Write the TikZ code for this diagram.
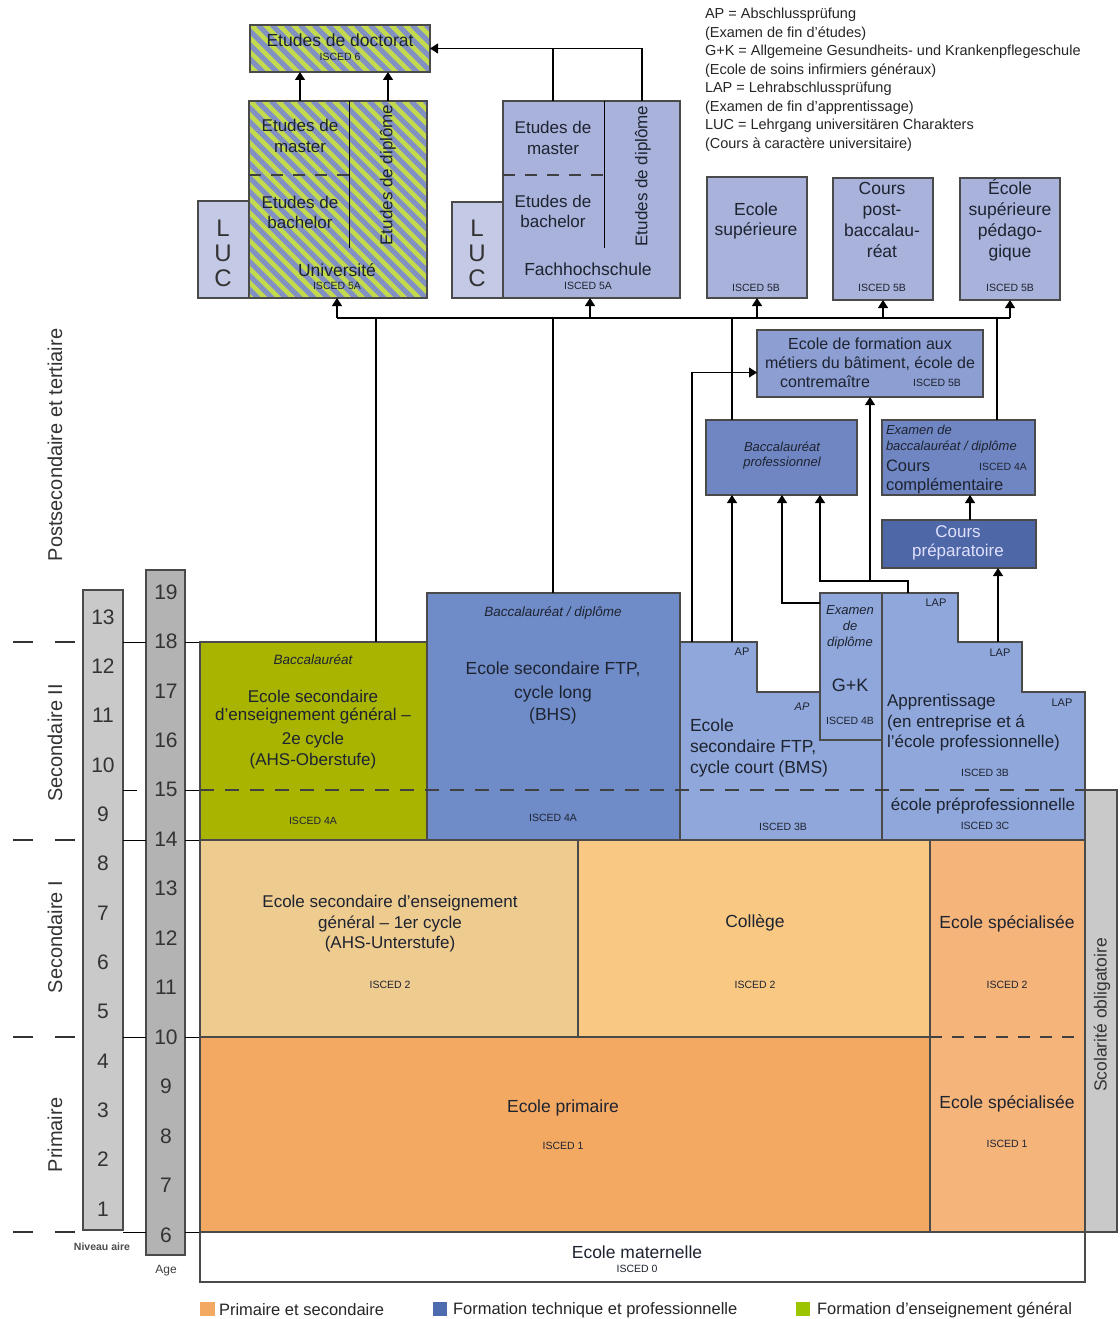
\documentclass[tikz,border=0pt]{standalone}
\usepackage{fontspec}
\setmainfont{Liberation Sans}
\usetikzlibrary{arrows.meta,calc}
\definecolor{ink}{HTML}{1E2330}
\definecolor{frame}{HTML}{4A4A4A}
\definecolor{cPrim}{HTML}{F4A962}
\definecolor{cSpec}{HTML}{F5B47A}
\definecolor{cAhsu}{HTML}{EECB8F}
\definecolor{cColl}{HTML}{F9C883}
\definecolor{cGreen}{HTML}{A8B400}
\definecolor{cBHS}{HTML}{6F8CC9}
\definecolor{cBMS}{HTML}{8FA7DA}
\definecolor{cBacPro}{HTML}{6F86C3}
\definecolor{cPrep}{HTML}{4E67A6}
\definecolor{cForm}{HTML}{8C9ED2}
\definecolor{cTop}{HTML}{A9B2DA}
\definecolor{cLuc}{HTML}{C4C9E6}
\definecolor{gNiv}{HTML}{C9C9C9}
\definecolor{gAge}{HTML}{B3B3B3}
\definecolor{hG}{HTML}{C3DA4E}
\definecolor{hB}{HTML}{8391C2}
\definecolor{lgBlue}{HTML}{4E6BAF}
\definecolor{lgGreen}{HTML}{9CC400}
\newcommand\rbox[6]{\node[#6, minimum width={(#4-#2)*1pt}, minimum height={(#5-#3)*1pt}] (#1) at ({(#2+#4)/2},{(#3+#5)/2}) {};}
\tikzset{
  fr/.style={draw=frame, line width=1.1pt},
  hatch/.style={path picture={
    \fill[hG] (path picture bounding box.south west) rectangle (path picture bounding box.north east);
    \foreach \k in {0,14,...,560} \draw[hB, line width=5pt] ($(path picture bounding box.north west)+(\k-300,0)$) -- ++(300,300);
  }},
  T/.style={font=\fontsize{17.5}{21}\selectfont, text=ink, align=center},
  TL/.style={font=\fontsize{17.5}{21}\selectfont, text=ink, align=left},
  Sm/.style={font=\fontsize{10.5}{12}\selectfont, text=ink},
  It/.style={font=\fontsize{13.5}{15}\selectfont\itshape, text=ink, align=center},
  Num/.style={font=\fontsize{21}{21}\selectfont, text=black!80},
  Side/.style={font=\fontsize{20}{20}\selectfont, text=black!80, rotate=90},
  Lg/.style={font=\fontsize{14.5}{15}\selectfont, text=black!85, anchor=west},
  LUCs/.style={font=\fontsize{24}{25}\selectfont, text=black!80, align=center},
  ln/.style={draw=black, line width=1.1pt},
  arr/.style={draw=black, line width=1.1pt, -{Triangle[length=8pt,width=10pt]}},
  dsh/.style={draw=black!75, line width=1.6pt, dash pattern=on 14pt off 11pt},
  dshi/.style={draw=black!75, line width=1.1pt, dash pattern=on 12pt off 10pt},
  lmark/.style={draw=black!80, line width=2.8pt},
}
\begin{document}
\begin{tikzpicture}[x=1pt,y=-1pt, every node/.style={inner sep=0pt, outer sep=0pt}]
\fill[white] (0,0) rectangle (1119,1319);
\useasboundingbox (0,0) rectangle (1119,1319);

% ---- left axes
\rbox{niv}{83}{590}{123}{1230}{fr, fill=gNiv}
\rbox{age}{146}{570}{185}{1255}{fr, fill=gAge}
\foreach \n [count=\i from 0] in {13,12,...,1} \node[Num] (niv-\n) at (103,{617+\i*49.33}) {\n};
\foreach \n [count=\i from 0] in {19,18,...,6} \node[Num] (age-\n) at (166,{592+\i*49.46}) {\n};
\foreach \y in {642,840,1037,1232} {
  \draw[lmark] (13,\y) -- (33,\y);
  \draw[lmark] (55,\y) -- (75,\y);
  \draw[ln, line width=0.9pt] (123,\y) -- (146,\y);
  \draw[ln, line width=0.9pt] (185,\y) -- (200,\y);
}
\draw[ln, line width=0.9pt] (123,790) -- (137,790);
\draw[ln, line width=0.9pt] (185,790) -- (200,790);
\node[Side] (lpost) at (55,445) {Postsecondaire et tertiaire};
\node[Side] (lsec2) at (55,743) {Secondaire II};
\node[Side] (lsec1) at (55,937) {Secondaire I};
\node[Side] (lprim) at (55,1135) {Primaire};
\node[font=\fontsize{10.5}{11}\selectfont\bfseries, text=black!70] (lniv) at (102,1247) {Niveau aire};
\node[font=\fontsize{12}{12}\selectfont, text=black!75] (lage) at (166,1271) {Age};

% ---- primary / lower secondary
\rbox{mat}{200}{1232}{1085}{1282}{fr, fill=white}
\rbox{scol}{1085}{790}{1117}{1232}{fr, fill=gNiv}
\rbox{prim}{200}{1037}{930}{1232}{fr, fill=cPrim}
\rbox{spec}{930}{840}{1085}{1232}{fr, fill=cSpec}
\rbox{ahsu}{200}{840}{578}{1037}{fr, fill=cAhsu}
\rbox{coll}{578}{840}{930}{1037}{fr, fill=cColl}
\draw[dshi] (spec.west |- prim.north) -- (spec.east |- prim.north);

% ---- upper secondary
\rbox{ahso}{200}{642}{427}{840}{fr, fill=cGreen}
\rbox{bhs}{427}{593}{680}{840}{fr, fill=cBHS}
\filldraw[fr, fill=cBMS] (680,642) -- (757,642) -- (757,692) -- (820,692) -- (820,740) -- (882,740) -- (882,840) -- (680,840) -- cycle;
\rbox{gk}{820}{593}{882}{740}{fr, fill=cBMS}
\filldraw[fr, fill=cBMS] (882,593) -- (958,593) -- (958,642) -- (1022,642) -- (1022,692) -- (1085,692) -- (1085,840) -- (882,840) -- cycle;
\draw[dsh] (ahso.west |- 0,790) -- (1085,790);

% ---- tertiary
\rbox{prep}{882}{520}{1036}{568}{fr, fill=cPrep}
\rbox{bacpro}{706}{420}{857}{495}{fr, fill=cBacPro}
\rbox{compl}{882}{420}{1035}{495}{fr, fill=cBacPro}
\rbox{form}{757}{330}{983}{397}{fr, fill=cForm}
\rbox{esup}{707}{177}{807}{298}{fr, fill=cTop}
\rbox{cpb}{833}{178}{933}{300}{fr, fill=cTop}
\rbox{esp}{960}{178}{1060}{300}{fr, fill=cTop}
\rbox{fh}{503}{101}{680}{298}{fr, fill=cTop}
\rbox{luc2}{452}{202}{503}{298}{fr, fill=cLuc}
\rbox{univ}{249}{101}{427}{298}{fr, hatch}
\rbox{luc1}{198}{201}{249}{298}{fr, fill=cLuc}
\rbox{doc}{250}{25}{430}{72}{fr, hatch}
\draw[ln, line width=0.9pt] (349,101) -- (349,248);
\draw[dshi] (249,175) -- (349,175);
\draw[ln, line width=0.9pt] (604,101) -- (604,248);
\draw[dshi] (503,175) -- (604,175);

% ---- connectors
\foreach \v in {300,337,376,388,553,590,642,692,732,782,820,870,908,970,997,998}
  \coordinate (x\v) at (\v,0);
\coordinate (busL) at (337,318);
\coordinate (hj) at (908,581);
\draw[ln] (busL) -- (esp.south |- busL);
\draw[arr] (busL) -- (univ.south -| busL);
\draw[arr] (x590 |- busL) -- (fh.south -| x590);
\draw[arr] (esup.south |- busL) -- (esup.south);
\draw[arr] (cpb.south |- busL) -- (cpb.south);
\draw[arr] (esp.south |- busL) -- (esp.south);
\draw[ln] (ahso.north -| x376) -- (x376 |- busL);
\draw[ln] (bhs.north -| x553) -- (x553 |- busL);
\draw[ln] (bacpro.north -| x732) -- (x732 |- busL);
\draw[ln] (compl.north -| x997) -- (x997 |- busL);
\draw[arr] (univ.north -| x300) -- (doc.south -| x300);
\draw[arr] (univ.north -| x388) -- (doc.south -| x388);
\draw[ln] (fh.north -| x553) -- (x553 |- doc.east);
\draw[arr] (fh.north -| x642) |- (doc.east);
\draw[arr] (ahso.north -| x692) |- ($(form.west)+(0,9)$);
\draw[arr] (ahso.north -| x732) -- (bacpro.south -| x732);
\draw[arr] ($(gk.north west)+(0,10)$) -| (bacpro.south -| x782);
\draw[arr] (gk.north -| x908) -- (hj) -| (bacpro.south -| x820);
\draw[arr] (x870 |- hj) -- (form.south -| x870);
\draw[arr] (ahso.north -| x998) -- (prep.south -| x998);
\draw[arr] (prep.north -| x970) -- (compl.south -| x970);

% ---- texts tertiary
\node[T] (tdoc) at (340,40) {Etudes de doctorat};
\node[Sm] (tdoci) at (340,57) {ISCED 6};
\node[T, font=\fontsize{17}{21}\selectfont] (tum) at (300,136) {Etudes de\\master};
\node[T, font=\fontsize{17}{20}\selectfont] (tub) at (300,212) {Etudes de\\bachelor};
\node[T] (tuni) at (337,270) {Université};
\node[Sm] (tunii) at (337,286) {ISCED 5A};
\node[T, rotate=90, font=\fontsize{17}{20}\selectfont] (tud) at (388,175) {Etudes de diplôme};
\node[LUCs] (tluc1) at (223,253) {L\\U\\C};
\node[T, font=\fontsize{17}{21}\selectfont] (tfm) at (553,138) {Etudes de\\master};
\node[T, font=\fontsize{17}{20}\selectfont] (tfb) at (553,211) {Etudes de\\bachelor};
\node[T] (tfh) at (588,269) {Fachhochschule};
\node[Sm] (tfhi) at (588,286) {ISCED 5A};
\node[T, rotate=90, font=\fontsize{17}{20}\selectfont] (tfd) at (643,176) {Etudes de diplôme};
\node[LUCs] (tluc2) at (477,253) {L\\U\\C};
\node[T, font=\fontsize{17.5}{20}\selectfont] (tesup) at (756,221) {Ecole\\supérieure};
\node[Sm] (tesupi) at (756,288) {ISCED 5B};
\node[T, font=\fontsize{17.5}{21}\selectfont] (tcpb) at (882,220) {Cours\\post-\\baccalau-\\réat};
\node[Sm] (tcpbi) at (882,288) {ISCED 5B};
\node[T, font=\fontsize{17.5}{21}\selectfont] (tesp) at (1010,220) {École\\supérieure\\pédago-\\gique};
\node[Sm] (tespi) at (1010,288) {ISCED 5B};
\node[T, font=\fontsize{16}{19}\selectfont] (tform) at (870,354) {Ecole de formation aux\\métiers du bâtiment, école de};
\node[T, font=\fontsize{16}{19}\selectfont] (tform2) at (825,382) {contremaître};
\node[Sm] (tformi) at (937,383) {ISCED 5B};
\node[It, font=\fontsize{13}{15}\selectfont\itshape] (tbac) at (782,456) {Baccalauréat\\professionnel};
\node[It, anchor=west, font=\fontsize{13}{15}\selectfont\itshape] (tcx1) at (886,430) {Examen de};
\node[It, anchor=west, font=\fontsize{13}{15}\selectfont\itshape] (tcx2) at (886,447) {baccalauréat / diplôme};
\node[TL, anchor=west, font=\fontsize{16.5}{20}\selectfont] (tcx3) at (886,466) {Cours};
\node[Sm] (tcxi) at (1003,467) {ISCED 4A};
\node[TL, anchor=west, font=\fontsize{16.5}{20}\selectfont] (tcx4) at (886,486) {complémentaire};
\node[T, text=white!88!blue, font=\fontsize{17}{19}\selectfont] (tprep) at (958,543) {Cours\\préparatoire};

% ---- texts upper secondary
\node[It] (tahs0) at (313,660) {Baccalauréat};
\node[T, font=\fontsize{17}{18}\selectfont] (tahs1) at (313,707) {Ecole secondaire\\d'enseignement général –};
\node[T, font=\fontsize{17}{21}\selectfont] (tahs2) at (313,751) {2e cycle\\(AHS-Oberstufe)};
\node[Sm] (tahsi) at (313,821) {ISCED 4A};
\node[It] (tbhs0) at (553,613) {Baccalauréat / diplôme};
\node[T, font=\fontsize{17.5}{24}\selectfont] (tbhs1) at (553,682) {Ecole secondaire FTP,\\cycle long};
\node[T] (tbhs2) at (553,716) {(BHS)};
\node[Sm] (tbhsi) at (553,818) {ISCED 4A};
\node[Sm, font=\fontsize{11}{12}\selectfont] (tap1) at (742,652) {AP};
\node[Sm, font=\fontsize{11}{12}\selectfont\itshape] (tap2) at (802,707) {AP};
\node[TL, anchor=west] (tbms) at (690,748) {Ecole\\secondaire FTP,\\cycle court  (BMS)};
\node[Sm] (tbmsi) at (783,827) {ISCED 3B};
\node[It, font=\fontsize{13}{16}\selectfont\itshape] (tgk0) at (850,627) {Examen\\de\\diplôme};
\node[T, font=\fontsize{18}{20}\selectfont] (tgk) at (850,685) {G+K};
\node[Sm] (tgki) at (850,721) {ISCED 4B};
\node[Sm, font=\fontsize{11}{12}\selectfont] (tlap1) at (936,603) {LAP};
\node[Sm, font=\fontsize{11}{12}\selectfont] (tlap2) at (1000,653) {LAP};
\node[Sm, font=\fontsize{11}{12}\selectfont] (tlap3) at (1062,703) {LAP};
\node[TL, font=\fontsize{17}{20.5}\selectfont, anchor=west] (tapp) at (887,723) {Apprentissage\\(en entreprise et á\\l'école professionnelle)};
\node[Sm] (tappi) at (985,773) {ISCED 3B};
\node[T, font=\fontsize{17}{20}\selectfont] (tpre) at (983,806) {école préprofessionnelle};
\node[Sm] (tprei) at (985,826) {ISCED 3C};

% ---- texts lower
\node[T, font=\fontsize{17}{20.5}\selectfont] (tahsu) at (390,924) {Ecole secondaire d'enseignement\\général  – 1er cycle\\(AHS-Unterstufe)};
\node[Sm] (tahsui) at (390,985) {ISCED 2};
\node[T] (tcoll) at (755,923) {Collège};
\node[Sm] (tcolli) at (755,985) {ISCED 2};
\node[T] (tspec2) at (1007,924) {Ecole spécialisée};
\node[Sm] (tspec2i) at (1007,985) {ISCED 2};
\node[T] (tprim) at (563,1108) {Ecole primaire};
\node[Sm] (tprimi) at (563,1146) {ISCED 1};
\node[T] (tspec1) at (1007,1104) {Ecole spécialisée};
\node[Sm] (tspec1i) at (1007,1144) {ISCED 1};
\node[T] (tmat) at (637,1252) {Ecole maternelle};
\node[Sm] (tmati) at (637,1269) {ISCED 0};
\node[T, rotate=90, text=black!80] (tscol) at (1102,1015) {Scolarité obligatoire};

% ---- legends
\foreach \t [count=\i from 0] in {AP = Abschlussprüfung, (Examen de fin d'études), G+K = Allgemeine Gesundheits- und Krankenpflegeschule, (Ecole de soins infirmiers généraux), LAP = Lehrabschlussprüfung, (Examen de fin d'apprentissage), LUC = Lehrgang universitären Charakters, (Cours à caractère universitaire)}
  \node[Lg] (leg\i) at (705,{15+\i*18.5}) {\t};
\rbox{lg1}{200}{1302}{215}{1316}{fill=cPrim}
\rbox{lg2}{433}{1302}{447}{1316}{fill=lgBlue}
\rbox{lg3}{796}{1302}{810}{1316}{fill=lgGreen}
\node[Lg, font=\fontsize{16.5}{17}\selectfont] (lgt1) at (219,1310) {Primaire et secondaire};
\node[Lg, font=\fontsize{16.5}{17}\selectfont] (lgt2) at (453,1310) {Formation technique et professionnelle};
\node[Lg, font=\fontsize{16.5}{17}\selectfont] (lgt3) at (817,1310) {Formation d'enseignement général};
\end{tikzpicture}
\end{document}
